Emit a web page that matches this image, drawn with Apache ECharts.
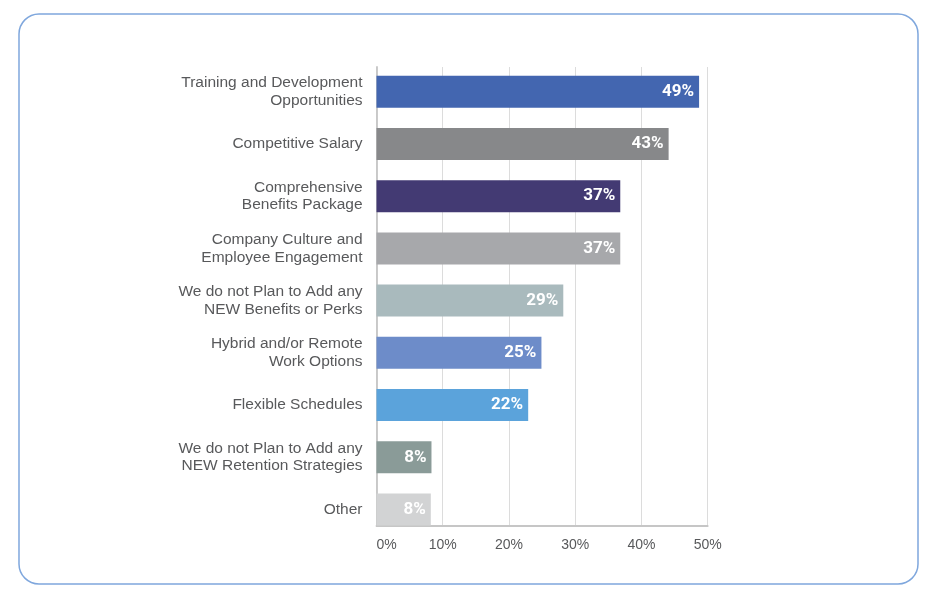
<!DOCTYPE html>
<html>
<head>
<meta charset="utf-8">
<script src="https://cdn.jsdelivr.net/npm/echarts@6/dist/echarts.min.js"></script>
<style>
  html, body { margin: 0; padding: 0; background: #ffffff; }
  #chart { width: 936px; height: 604px; }
</style>
</head>
<body>
<div id="chart"></div>
<script>
// ---- Data ----
const categories = [
  'Training and Development\nOpportunities',
  'Competitive Salary',
  'Comprehensive\nBenefits Package',
  'Company Culture and\nEmployee Engagement',
  'We do not Plan to Add any\nNEW Benefits or Perks',
  'Hybrid and/or Remote\nWork Options',
  'Flexible Schedules',
  'We do not Plan to Add any\nNEW Retention Strategies',
  'Other'
];
const values = [48.7, 44.1, 36.8, 36.8, 28.2, 24.9, 22.9, 8.3, 8.2];
const valueLabels = ['49%', '43%', '37%', '37%', '29%', '25%', '22%', '8%', '8%'];
const xTickValues = [0, 10, 20, 30, 40, 50];

// ---- Styles ----
const barColors = ['#4366b0', '#87888a', '#433a73', '#a7a8ab', '#a9babd', '#6d8cc9', '#5ba3db', '#8a9b98', '#d2d3d4'];

const chart = echarts.init(document.getElementById('chart'), null, { renderer: 'canvas' });

const fontFamily = "'Liberation Sans', Arial, Helvetica, sans-serif";
const labelColor = '#58595b';

const option = {
  backgroundColor: '#ffffff',
  animation: false,
  graphic: [{
    type: 'rect',
    shape: { x: 19, y: 14, width: 899, height: 570, r: 20 },
    style: { fill: 'none', stroke: '#7fa7dd', lineWidth: 1.5 },
    z: -10
  }],
  grid: [
    { left: 376.5, width: 331.2, top: 65.6, height: 470, containLabel: false },
    { left: 376.5, width: 331.2, top: 67, height: 458.7, containLabel: false }
  ],
  xAxis: [
    { type: 'value', gridIndex: 0, min: 0, max: 50, interval: 10, show: false },
    {
      type: 'value', gridIndex: 1, min: xTickValues[0], max: xTickValues[xTickValues.length - 1], interval: 10,
      axisLine: { show: true, lineStyle: { color: '#c6c6c6', width: 1.8 } },
      axisTick: { show: false },
      splitLine: { show: true, lineStyle: { color: '#dcdcdc', width: 1 } },
      axisLabel: {
        formatter: v => v + '%',
        color: labelColor, fontSize: 14, fontFamily: fontFamily, margin: 12,
        alignMinLabel: 'left'
      }
    }
  ],
  yAxis: [
    {
      type: 'category', gridIndex: 0, data: categories, inverse: true,
      axisLine: { show: false }, axisTick: { show: false }, splitLine: { show: false },
      axisLabel: {
        color: labelColor, fontSize: 15.5, lineHeight: 17.7, fontFamily: fontFamily,
        margin: 14, align: 'right', padding: [7, 0, 0, 0]
      }
    },
    {
      type: 'value', gridIndex: 1, min: 0, max: 1,
      axisLine: { show: true, lineStyle: { color: '#c6c6c6', width: 1.8 } },
      axisTick: { show: false }, axisLabel: { show: false }, splitLine: { show: false }
    }
  ],
  series: [{
    type: 'bar',
    xAxisIndex: 0, yAxisIndex: 0,
    barWidth: 32,
    data: values.map((v, i) => ({ value: v, itemStyle: { color: barColors[i] } })),
    label: {
      show: true,
      position: 'insideRight',
      distance: 5,
      formatter: p => valueLabels[p.dataIndex],
      color: '#ffffff',
      fontWeight: 'bold',
      fontSize: 17,
      fontFamily: "Roboto, " + fontFamily,
      padding: [2, 0, 0, 0]
    },
    z: 3
  }]
};

chart.setOption(option);
</script>
</body>
</html>
